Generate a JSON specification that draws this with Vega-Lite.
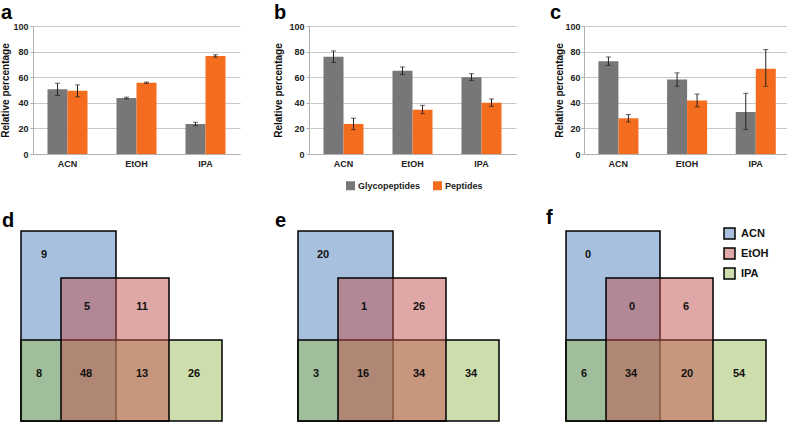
{
  "$schema": "https://vega.github.io/schema/vega-lite/v6.json",
  "padding": {"top": 3, "left": 0, "right": 0, "bottom": 0},
  "background": "white",
  "config": {
    "view": {"stroke": null},
    "font": "Liberation Sans",
    "axis": {"labelFontWeight": "bold", "labelFontSize": 9, "labelColor": "#222", "titleFontWeight": "bold", "titleFontSize": 10, "titleColor": "#111", "domainColor": "#b0b0b0", "tickColor": "#b0b0b0", "gridColor": "#c8c8c8"},
    "axisX": {"ticks": false, "labelAngle": 0, "labelPadding": 5, "grid": false},
    "axisY": {"tickSize": 3, "labelPadding": 2, "titlePadding": 2, "values": [0, 20, 40, 60, 80, 100]},
    "title": {"fontSize": 20, "fontWeight": "bold", "anchor": "start", "color": "#000", "offset": -1}
  },
  "spacing": 17,
  "vconcat": [
    {
      "spacing": 33,
      "resolve": {"scale": {"color": "independent"}, "legend": {"color": "independent"}},
      "hconcat": [
        {
          "width": 207, "height": 128,
          "title": {"text": "a", "frame": "bounds"},
          "data": {"values": [
            {"solvent": "ACN", "type": "Glycopeptides", "value": 50.5, "lo": 45.7, "hi": 55.3},
            {"solvent": "ACN", "type": "Peptides", "value": 49.4, "lo": 44.7, "hi": 54.0},
            {"solvent": "EtOH", "type": "Glycopeptides", "value": 43.7, "lo": 43.0, "hi": 44.4},
            {"solvent": "EtOH", "type": "Peptides", "value": 55.7, "lo": 55.2, "hi": 56.2},
            {"solvent": "IPA", "type": "Glycopeptides", "value": 23.4, "lo": 22.0, "hi": 24.8},
            {"solvent": "IPA", "type": "Peptides", "value": 76.6, "lo": 75.7, "hi": 77.5}
          ]},
          "encoding": {
            "x": {"field": "solvent", "type": "nominal", "sort": ["ACN", "EtOH", "IPA"], "scale": {"paddingInner": 0.42, "paddingOuter": 0.21}, "axis": {"title": null}},
            "xOffset": {"field": "type", "type": "nominal", "sort": ["Glycopeptides", "Peptides"]}
          },
          "layer": [
            {"mark": {"type": "bar"}, "encoding": {
              "y": {"field": "value", "type": "quantitative", "title": "Relative percentage", "scale": {"domain": [0, 100], "nice": false}},
              "color": {"field": "type", "type": "nominal", "scale": {"domain": ["Glycopeptides", "Peptides"], "range": ["#77777a", "#f46d1e"]}, "legend": null}}},
            {"mark": {"type": "rule", "color": "#222", "strokeWidth": 1}, "encoding": {"y": {"field": "lo", "type": "quantitative", "title": "Relative percentage"}, "y2": {"field": "hi"}}},
            {"mark": {"type": "tick", "color": "#222", "size": 5, "thickness": 1}, "encoding": {"y": {"field": "lo", "type": "quantitative", "title": "Relative percentage"}}},
            {"mark": {"type": "tick", "color": "#222", "size": 5, "thickness": 1}, "encoding": {"y": {"field": "hi", "type": "quantitative", "title": "Relative percentage"}}}
          ]
        },
        {
          "width": 207, "height": 128,
          "title": {"text": "b", "frame": "bounds"},
          "data": {"values": [
            {"solvent": "ACN", "type": "Glycopeptides", "value": 76.0, "lo": 71.5, "hi": 80.5},
            {"solvent": "ACN", "type": "Peptides", "value": 23.5, "lo": 19.0, "hi": 28.0},
            {"solvent": "EtOH", "type": "Glycopeptides", "value": 65.0, "lo": 62.0, "hi": 68.0},
            {"solvent": "EtOH", "type": "Peptides", "value": 34.5, "lo": 31.5, "hi": 38.0},
            {"solvent": "IPA", "type": "Glycopeptides", "value": 60.0, "lo": 57.3, "hi": 62.7},
            {"solvent": "IPA", "type": "Peptides", "value": 40.0, "lo": 37.3, "hi": 43.0}
          ]},
          "encoding": {
            "x": {"field": "solvent", "type": "nominal", "sort": ["ACN", "EtOH", "IPA"], "scale": {"paddingInner": 0.42, "paddingOuter": 0.21}, "axis": {"title": null}},
            "xOffset": {"field": "type", "type": "nominal", "sort": ["Glycopeptides", "Peptides"]}
          },
          "layer": [
            {"mark": {"type": "bar"}, "encoding": {
              "y": {"field": "value", "type": "quantitative", "title": "Relative percentage", "scale": {"domain": [0, 100], "nice": false}, "axis": {"titlePadding": 5}},
              "color": {"field": "type", "type": "nominal", "scale": {"domain": ["Glycopeptides", "Peptides"], "range": ["#77777a", "#f46d1e"]},
                "legend": {"orient": "none", "legendX": 37, "legendY": 155, "direction": "horizontal", "title": null, "symbolType": "square", "symbolSize": 81, "symbolStrokeWidth": 0, "labelFontSize": 9, "labelFontWeight": "bold", "labelColor": "#222", "columnPadding": 12, "labelOffset": 3}}}},
            {"mark": {"type": "rule", "color": "#222", "strokeWidth": 1}, "encoding": {"y": {"field": "lo", "type": "quantitative", "title": "Relative percentage"}, "y2": {"field": "hi"}}},
            {"mark": {"type": "tick", "color": "#222", "size": 5, "thickness": 1}, "encoding": {"y": {"field": "lo", "type": "quantitative", "title": "Relative percentage"}}},
            {"mark": {"type": "tick", "color": "#222", "size": 5, "thickness": 1}, "encoding": {"y": {"field": "hi", "type": "quantitative", "title": "Relative percentage"}}}
          ]
        },
        {
          "width": 206, "height": 128,
          "title": {"text": "c", "frame": "bounds", "dx": -5},
          "data": {"values": [
            {"solvent": "ACN", "type": "Glycopeptides", "value": 72.4, "lo": 69.2, "hi": 75.8},
            {"solvent": "ACN", "type": "Peptides", "value": 27.9, "lo": 25.0, "hi": 30.8},
            {"solvent": "EtOH", "type": "Glycopeptides", "value": 58.2, "lo": 52.9, "hi": 63.4},
            {"solvent": "EtOH", "type": "Peptides", "value": 41.8, "lo": 36.8, "hi": 46.8},
            {"solvent": "IPA", "type": "Glycopeptides", "value": 32.9, "lo": 19.2, "hi": 47.4},
            {"solvent": "IPA", "type": "Peptides", "value": 66.6, "lo": 52.9, "hi": 81.6}
          ]},
          "encoding": {
            "x": {"field": "solvent", "type": "nominal", "sort": ["ACN", "EtOH", "IPA"], "scale": {"paddingInner": 0.42, "paddingOuter": 0.21}, "axis": {"title": null}},
            "xOffset": {"field": "type", "type": "nominal", "sort": ["Glycopeptides", "Peptides"]}
          },
          "layer": [
            {"mark": {"type": "bar"}, "encoding": {
              "y": {"field": "value", "type": "quantitative", "title": "Relative percentage", "scale": {"domain": [0, 100], "nice": false}, "axis": {"titlePadding": 0, "labelPadding": 1}},
              "color": {"field": "type", "type": "nominal", "scale": {"domain": ["Glycopeptides", "Peptides"], "range": ["#77777a", "#f46d1e"]}, "legend": null}}},
            {"mark": {"type": "rule", "color": "#222", "strokeWidth": 1}, "encoding": {"y": {"field": "lo", "type": "quantitative", "title": "Relative percentage"}, "y2": {"field": "hi"}}},
            {"mark": {"type": "tick", "color": "#222", "size": 5, "thickness": 1}, "encoding": {"y": {"field": "lo", "type": "quantitative", "title": "Relative percentage"}}},
            {"mark": {"type": "tick", "color": "#222", "size": 5, "thickness": 1}, "encoding": {"y": {"field": "hi", "type": "quantitative", "title": "Relative percentage"}}}
          ]
        }
      ]
    },
    {
      "spacing": 0,
      "resolve": {"scale": {"fill": "independent", "x": "independent", "y": "independent"}, "legend": {"fill": "independent"}},
      "hconcat": [
        {
          "width": 229, "height": 190,
          "title": {"text": "d", "frame": "group", "dx": -31},
          "layer": [
            {"data": {"values": [
              {"set": "ACN", "x1": 0, "x2": 95, "y1": 0, "y2": 190},
              {"set": "IPA", "x1": 0, "x2": 201, "y1": 0, "y2": 81},
              {"set": "EtOH", "x1": 40, "x2": 148, "y1": 0, "y2": 143}
            ]},
             "mark": {"type": "rect", "fillOpacity": 0.5, "stroke": "#000", "strokeWidth": 1.5},
             "encoding": {
               "x": {"field": "x1", "type": "quantitative", "scale": {"domain": [12, 241], "nice": false}, "axis": null},
               "x2": {"field": "x2"},
               "y": {"field": "y1", "type": "quantitative", "scale": {"domain": [0, 190], "nice": false}, "axis": null},
               "y2": {"field": "y2"},
               "fill": {"field": "set", "type": "nominal", "scale": {"domain": ["ACN", "EtOH", "IPA"], "range": ["#4f81bd", "#c0504d", "#9bbb59"]}, "legend": null}
             }},
            {"data": {"values": [
              {"n": 9, "x": 23, "y": 166}, {"n": 5, "x": 66, "y": 114}, {"n": 11, "x": 121, "y": 114},
              {"n": 8, "x": 18, "y": 47}, {"n": 48, "x": 65, "y": 47}, {"n": 13, "x": 121, "y": 47}, {"n": 26, "x": 173, "y": 47}
            ]},
             "mark": {"type": "text", "fontSize": 11, "fontWeight": "bold", "color": "#111"},
             "encoding": {"x": {"field": "x", "type": "quantitative"}, "y": {"field": "y", "type": "quantitative"}, "text": {"field": "n"}}}
          ]
        },
        {
          "width": 262, "height": 190,
          "title": {"text": "e", "frame": "group", "dx": 13},
          "layer": [
            {"data": {"values": [
              {"set": "ACN", "x1": 0, "x2": 95, "y1": 0, "y2": 190},
              {"set": "IPA", "x1": 0, "x2": 201, "y1": 0, "y2": 81},
              {"set": "EtOH", "x1": 40, "x2": 148, "y1": 0, "y2": 143}
            ]},
             "mark": {"type": "rect", "fillOpacity": 0.5, "stroke": "#000", "strokeWidth": 1.5},
             "encoding": {
               "x": {"field": "x1", "type": "quantitative", "scale": {"domain": [-36, 226], "nice": false}, "axis": null},
               "x2": {"field": "x2"},
               "y": {"field": "y1", "type": "quantitative", "scale": {"domain": [0, 190], "nice": false}, "axis": null},
               "y2": {"field": "y2"},
               "fill": {"field": "set", "type": "nominal", "scale": {"domain": ["ACN", "EtOH", "IPA"], "range": ["#4f81bd", "#c0504d", "#9bbb59"]}, "legend": null}
             }},
            {"data": {"values": [
              {"n": 20, "x": 25, "y": 166}, {"n": 1, "x": 66, "y": 114}, {"n": 26, "x": 121, "y": 114},
              {"n": 3, "x": 18, "y": 47}, {"n": 16, "x": 65, "y": 47}, {"n": 34, "x": 121, "y": 47}, {"n": 34, "x": 173, "y": 47}
            ]},
             "mark": {"type": "text", "fontSize": 11, "fontWeight": "bold", "color": "#111"},
             "encoding": {"x": {"field": "x", "type": "quantitative"}, "y": {"field": "y", "type": "quantitative"}, "text": {"field": "n"}}}
          ]
        },
        {
          "width": 263, "height": 190,
          "title": {"text": "f", "frame": "group", "dx": 22},
          "layer": [
            {"data": {"values": [
              {"set": "ACN", "x1": 0, "x2": 94, "y1": 0, "y2": 190},
              {"set": "IPA", "x1": 0, "x2": 200, "y1": 0, "y2": 81},
              {"set": "EtOH", "x1": 40, "x2": 147, "y1": 0, "y2": 143}
            ]},
             "mark": {"type": "rect", "fillOpacity": 0.5, "stroke": "#000", "strokeWidth": 1.5},
             "encoding": {
               "x": {"field": "x1", "type": "quantitative", "scale": {"domain": [-42, 221], "nice": false}, "axis": null},
               "x2": {"field": "x2"},
               "y": {"field": "y1", "type": "quantitative", "scale": {"domain": [0, 190], "nice": false}, "axis": null},
               "y2": {"field": "y2"},
               "fill": {"field": "set", "type": "nominal", "scale": {"domain": ["ACN", "EtOH", "IPA"], "range": ["#4f81bd", "#c0504d", "#9bbb59"]},
                 "legend": {"orient": "none", "legendX": 199, "legendY": -4, "direction": "vertical", "title": null, "symbolType": "square", "symbolSize": 121, "symbolStrokeColor": "#000", "symbolStrokeWidth": 1.5, "labelFontSize": 11, "labelFontWeight": "bold", "labelColor": "#111", "labelOffset": 5, "rowPadding": 3,
                   "encode": {"symbols": {"update": {"fillOpacity": {"value": 0.5}, "stroke": {"value": "#000"}, "strokeWidth": {"value": 1.5}}}}}}
             }},
            {"data": {"values": [
              {"n": 0, "x": 22, "y": 166}, {"n": 0, "x": 66, "y": 114}, {"n": 6, "x": 120, "y": 114},
              {"n": 6, "x": 18, "y": 47}, {"n": 34, "x": 65, "y": 47}, {"n": 20, "x": 121, "y": 47}, {"n": 54, "x": 173, "y": 47}
            ]},
             "mark": {"type": "text", "fontSize": 11, "fontWeight": "bold", "color": "#111"},
             "encoding": {"x": {"field": "x", "type": "quantitative"}, "y": {"field": "y", "type": "quantitative"}, "text": {"field": "n"}}}
          ]
        }
      ]
    }
  ]
}
